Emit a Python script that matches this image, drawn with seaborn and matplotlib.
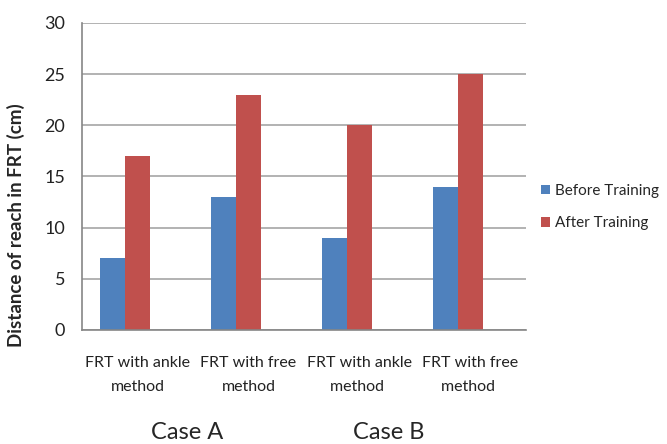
import numpy as np
import pandas as pd
import matplotlib
matplotlib.use('Agg')
import matplotlib.pyplot as plt
import seaborn as sns

categories = ['FRT with ankle\nmethod', 'FRT with free\nmethod',
              'FRT with ankle\nmethod ', 'FRT with free\nmethod ']
before = [7, 13, 9, 14]
after = [17, 23, 20, 25]
series = ['Before Training', 'After Training', ' ']
colors = ['#4F81BD', '#C0504D', '#FFFFFF']

# Excel chart had a third empty series, keeps the pairs shifted left
df = pd.DataFrame({
    'cat': categories * 3,
    'series': [series[0]] * 4 + [series[1]] * 4 + [series[2]] * 4,
    'value': before + after + [0] * 4,
})

sns.set_style('white')
plt.rcParams['font.family'] = ['Lato', 'DejaVu Sans']

fig = plt.figure(figsize=(6.67, 4.44), dpi=100)
ax = fig.add_axes([0.1229, 0.2568, 0.6657, 0.6914])

sns.barplot(data=df, x='cat', y='value', hue='series', hue_order=series,
            palette=colors, width=0.675, linewidth=0, saturation=1,
            errorbar=None, ax=ax)

ax.set_ylim(0, 30)
ax.set_yticks(range(0, 31, 5))
ax.set_xlim(-0.5, 3.5)
ax.yaxis.grid(True, color='#A6A6A6', linewidth=1.2)
ax.set_axisbelow(True)
for s in ['top', 'right']:
    ax.spines[s].set_visible(False)
for s in ['left', 'bottom']:
    ax.spines[s].set_color('#868686')
    ax.spines[s].set_linewidth(1.2)
ax.tick_params(axis='y', length=0, labelsize=13, colors='#222222', pad=12)
ax.tick_params(axis='x', length=0, labelsize=11.5, colors='#222222', pad=19)
ax.set_xlabel('')
ax.set_ylabel('Distance of reach in FRT (cm)', fontsize=13.5, fontweight='bold')
ax.yaxis.set_label_coords(-0.128, 0.343)

handles, labels = ax.get_legend_handles_labels()
ax.legend(handles[:2], labels[:2], loc='center left',
          bbox_to_anchor=(1.0, 0.40), frameon=False, fontsize=11,
          handlelength=0.6, handleheight=0.6, handletextpad=0.3,
          labelspacing=1.2, borderaxespad=0.6)

fig.text(187 / 667, 1 - 432 / 444, 'Case A', ha='center', va='center', fontsize=17)
fig.text(389 / 667, 1 - 432 / 444, 'Case B', ha='center', va='center', fontsize=17)

fig.canvas.draw()
for t in ax.get_xticklabels():
    t.set_linespacing(1.9)

fig.savefig('out.png', dpi=100)
